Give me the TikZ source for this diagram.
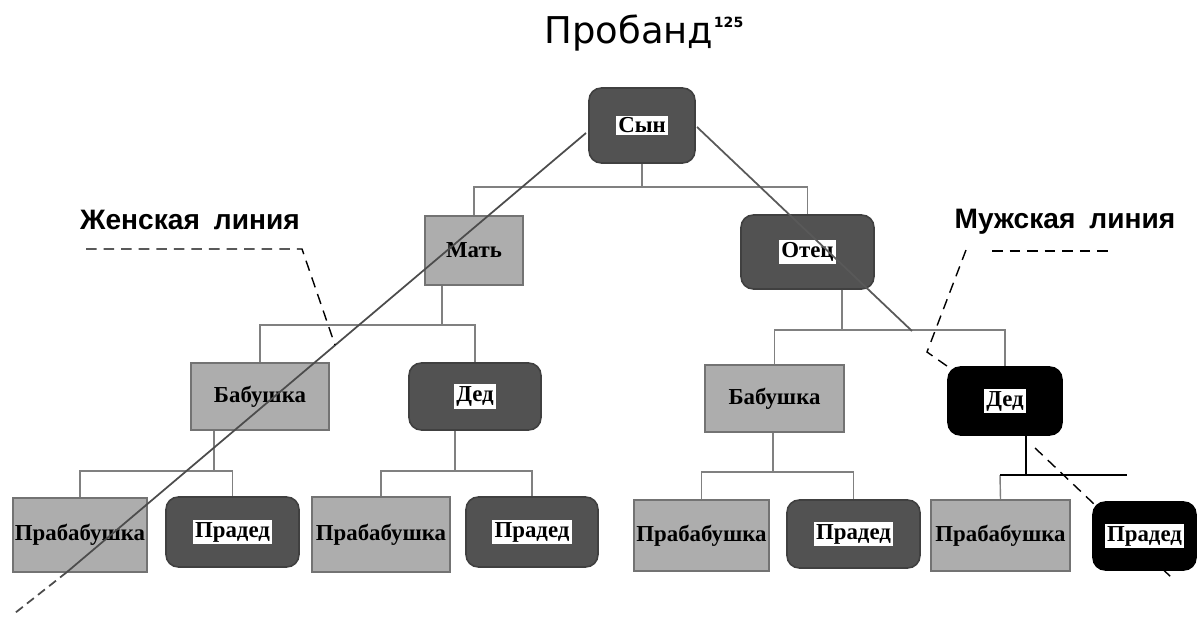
\documentclass[tikz,border=0pt]{standalone}
\usepackage{fontspec}
\setmainfont{Liberation Serif}
\newfontfamily\titlefont{DejaVu Sans}
\newfontfamily\labelfont{Liberation Sans}
\setlength{\fboxsep}{1.2pt}
\tikzset{
  boxbase/.style={draw, line width=0.9pt, inner sep=0pt, font=\fontsize{13}{15}\selectfont\bfseries},
  lightbox/.style={boxbase, fill=black!32, draw=black!55},
  darkbox/.style={boxbase, fill=black!68, draw=black!75, rounded corners=7pt},
  blackbox/.style={boxbase, fill=black, draw=black, rounded corners=7pt},
  conn/.style={draw=black!50, line width=0.8pt},
  boldconn/.style={draw=black, line width=1.6pt},
  fline/.style={draw=black!70, line width=1pt},
  mline/.style={draw=black!65, line width=1pt},
  leader/.style={draw=black, line width=0.8pt, dash pattern=on 6pt off 4pt},
  linelabel/.style={font=\labelfont\fontsize{16}{18}\selectfont\bfseries, inner sep=0pt},
}
\newcommand{\wl}[1]{\colorbox{white}{#1}}
\begin{document}
\begin{tikzpicture}[x=0.02cm,y=-0.02cm]
\useasboundingbox (0,0) rectangle (1197,616);

% title
\node[font=\titlefont\fontsize{21}{25}\selectfont, anchor=base, inner sep=0pt] (title) at (644,43) {Пробанд\kern0.3pt\raisebox{0.78ex}{\fontsize{8}{10}\selectfont\bfseries 125}};

% male line (lower part, behind the boxes)
\coordinate (md) at (1035,448);
\coordinate (me) at (1172,578);
\draw[leader] (md) -- (me);

% boxes
\node[darkbox, minimum width=2.12cm, minimum height=1.5cm] (son) at (642,125.5) {\wl{Сын}};
\node[lightbox, minimum width=1.96cm, minimum height=1.38cm] (mat) at (474,250.5) {Мать};
\node[darkbox, minimum width=2.66cm, minimum height=1.48cm] (otec) at (807.5,252) {\wl{Отец}};
\node[lightbox, minimum width=2.76cm, minimum height=1.34cm] (babL) at (260,396.5) {Бабушка};
\node[darkbox, minimum width=2.64cm, minimum height=1.34cm] (dedL) at (475,396.5) {\wl{Дед}};
\node[lightbox, minimum width=2.78cm, minimum height=1.34cm] (babR) at (774.5,398.5) {Бабушка};
\node[blackbox, minimum width=2.28cm, minimum height=1.36cm] (dedR) at (1005,401) {\wl{Дед}};
\node[lightbox, minimum width=2.68cm, minimum height=1.48cm] (pb1) at (80,535) {Прабабушка};
\node[darkbox, minimum width=2.66cm, minimum height=1.40cm] (pd1) at (232.5,532) {\wl{Прадед}};
\node[lightbox, minimum width=2.76cm, minimum height=1.50cm] (pb2) at (381,534.5) {Прабабушка};
\node[darkbox, minimum width=2.64cm, minimum height=1.40cm] (pd2) at (532,532) {\wl{Прадед}};
\node[lightbox, minimum width=2.70cm, minimum height=1.42cm] (pb3) at (701.5,535.5) {Прабабушка};
\node[darkbox, minimum width=2.66cm, minimum height=1.36cm] (pd3) at (853.5,534) {\wl{Прадед}};
\node[lightbox, minimum width=2.78cm, minimum height=1.42cm] (pb4) at (1000.5,535.5) {Прабабушка};
\node[blackbox, minimum width=2.06cm, minimum height=1.36cm] (pd4) at (1144.5,536) {\wl{Прадед}};

% bus coordinates
\coordinate (b1) at (642,187);
\coordinate (b2) at (442,325);
\coordinate (b3) at (842,330);
\coordinate (b4) at (214,471);
\coordinate (b5) at (455,471);
\coordinate (b6) at (773,472);
\coordinate (b7) at (1026,475);
\coordinate (b7L) at (1000,475);
\coordinate (b7R) at (1127,475);

% tree connectors
\draw[conn] (son.south) -- (b1);
\draw[conn] (mat.north) |- (b1) -| (otec.north);
\draw[conn] (mat.south -| b2) -- (b2);
\draw[conn] (babL.north) |- (b2) -| (dedL.north);
\draw[conn] (otec.south -| b3) -- (b3);
\draw[conn] (babR.north) |- (b3) -| (dedR.north);
\draw[conn] (babL.south -| b4) -- (b4);
\draw[conn] (pb1.north) |- (b4) -| (pd1.north);
\draw[conn] (dedL.south -| b5) -- (b5);
\draw[conn] (pb2.north) |- (b5) -| (pd2.north);
\draw[conn] (babR.south -| b6) -- (b6);
\draw[conn] (pb3.north) |- (b6) -| (pd3.north);
\draw[conn] (pb4.north) -- (b7L);
\draw[boldconn] (dedR.south -| b7) -- (b7);
\draw[boldconn] (b7L) -- (b7R);

% female line
\coordinate (fs) at (586,133);
\coordinate (fd) at (67,572);
\coordinate (fe) at (15,613);
\draw[fline] (fs) -- (fd);
\draw[fline, dash pattern=on 5pt off 3pt] (fd) -- (fe);

% male line (upper part)
\coordinate (ms) at (697,127);
\coordinate (mm) at (912,331);
\draw[mline] (ms) -- (mm);

% labels with leaders
\node[linelabel] (fem) at (190,220) {Женская\hspace{0.5em}линия};
\coordinate (fu1) at (86,249);
\coordinate (fu2) at (302,249);
\coordinate (ft) at (335,345);
\draw[leader] (fu1) -- (fu2) -- (ft);

\node[linelabel] (mal) at (1065,222) {Мужская\hspace{0.5em}линия};
\coordinate (mu1) at (992,251);
\coordinate (mu2) at (1110,251);
\coordinate (mt1) at (966,250);
\coordinate (mt2) at (927,352);
\draw[leader] (mu1) -- (mu2);
\draw[leader] (mt1) -- (mt2) -- (dedR.north west);
\end{tikzpicture}
\end{document}
